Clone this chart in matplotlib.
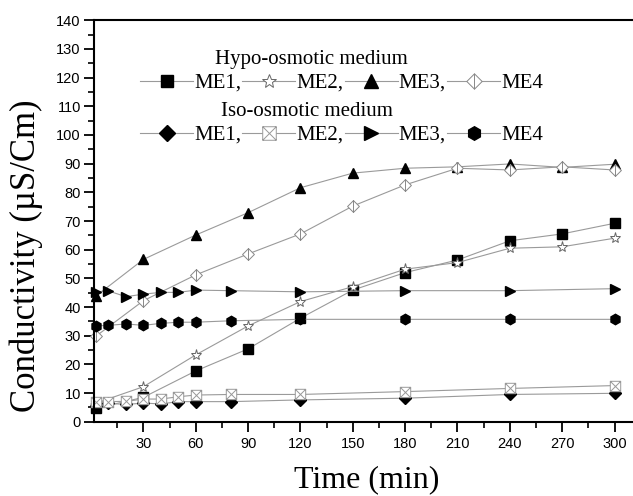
import matplotlib
matplotlib.use("Agg")
import matplotlib.pyplot as plt
import numpy as np
from matplotlib.path import Path
from matplotlib.lines import Line2D
from matplotlib.ticker import MultipleLocator

# ---- data ----
t_hypo = [3, 30, 60, 90, 120, 150, 180, 210, 240, 270, 300]
hypo_me1 = [4.7, 8.5, 17.7, 25.4, 36.1, 45.9, 52.0, 56.4, 63.1, 65.5, 69.2]
hypo_me2 = [6.5, 12.2, 23.3, 33.4, 41.9, 47.1, 53.2, 55.5, 60.5, 61.0, 64.0]
hypo_me3 = [43.9, 56.6, 65.1, 72.9, 81.6, 86.7, 88.4, 88.9, 89.9, 88.7, 89.8]
hypo_me4 = [29.9, 42.2, 51.2, 58.5, 65.5, 75.2, 82.6, 88.4, 87.8, 88.9, 87.8]

t_iso = [3, 10, 20, 30, 40, 50, 60, 80, 120, 180, 240, 300]
iso_me1 = [5.5, 6.4, 6.0, 6.5, 6.2, 7.0, 7.0, 7.0, 7.6, 8.2, 9.5, 9.9]
iso_me2 = [7.0, 7.0, 7.1, 7.9, 7.9, 8.7, 9.3, 9.5, 9.5, 10.5, 11.6, 12.6]
iso_me3 = [45.3, 45.6, 43.6, 44.5, 45.1, 45.1, 45.9, 45.7, 45.3, 45.7, 45.7, 46.4]
iso_me4 = [33.4, 33.6, 34.1, 33.6, 34.3, 34.7, 34.7, 35.2, 35.7, 35.7, 35.7, 35.7]

labels = ["ME1,", "ME2,", "ME3,", "ME4"]
xticks = [30, 60, 90, 120, 150, 180, 210, 240, 270, 300]

# ---- custom markers ----
diamond_bar = Path([(0, 1), (1, 0), (0, -1), (-1, 0), (0, 1), (0, 1), (0, -1)],
                   [Path.MOVETO, Path.LINETO, Path.LINETO, Path.LINETO, Path.CLOSEPOLY,
                    Path.MOVETO, Path.LINETO])
square_x = Path([(-1, -1), (1, -1), (1, 1), (-1, 1), (-1, -1),
                 (-1, -1), (1, 1), (-1, 1), (1, -1)],
                [Path.MOVETO, Path.LINETO, Path.LINETO, Path.LINETO, Path.CLOSEPOLY,
                 Path.MOVETO, Path.LINETO, Path.MOVETO, Path.LINETO])

W, H = 633, 496
fig = plt.figure(figsize=(W / 100, H / 100), dpi=100)
ax = fig.add_axes([94 / W, 1 - 421.7 / H, 539 / W, 401.4 / H])

lc = "#9a9a9a"
lw = 0.8
styles_hypo = [
    dict(marker="s", ms=6.5, mfc="black", mec="black"),
    dict(marker="*", ms=8, mfc="white", mec="#666666", mew=0.7),
    dict(marker="^", ms=7.5, mfc="black", mec="black"),
    dict(marker=diamond_bar, ms=8.5, mfc="white", mec="#888888", mew=0.7),
]
styles_iso = [
    dict(marker="D", ms=6, mfc="black", mec="black"),
    dict(marker=square_x, ms=7.5, mfc="white", mec="#999999", mew=0.7),
    dict(marker=">", ms=7.5, mfc="black", mec="black"),
    dict(marker="h", ms=7.5, mfc="black", mec="black"),
]

h_handles = []
for ys, st in zip([hypo_me1, hypo_me2, hypo_me3, hypo_me4], styles_hypo):
    ln, = ax.plot(t_hypo, ys, color=lc, lw=lw, clip_on=False, **st)
    h_handles.append(ln)
i_handles = []
for ys, st in zip([iso_me1, iso_me2, iso_me3, iso_me4], styles_iso):
    ln, = ax.plot(t_iso, ys, color=lc, lw=lw, clip_on=False, **st)
    i_handles.append(ln)

ax.set_xlim(1.7, 310.6)
ax.set_ylim(0, 140)
ax.set_xticks(xticks)
ax.xaxis.set_minor_locator(MultipleLocator(15))
ax.yaxis.set_major_locator(MultipleLocator(10))
ax.yaxis.set_minor_locator(MultipleLocator(5))
ax.tick_params(which="major", direction="out", length=7, width=1.3, labelsize=10.5, pad=2.5)
ax.tick_params(axis="x", which="major", pad=4)
ax.tick_params(which="minor", direction="out", length=4, width=1.2)
for lab in ax.get_xticklabels() + ax.get_yticklabels():
    lab.set_fontfamily("Liberation Sans")
for s in ["left", "bottom", "top"]:
    ax.spines[s].set_linewidth(1.5)
ax.spines["right"].set_visible(False)

ax.set_xlabel("Time (min)", fontfamily="Liberation Serif", fontsize=23)
ax.xaxis.set_label_coords((367 - 94) / 539, -0.108)
ax.set_ylabel("Conductivity (\u00b5S/Cm)", fontfamily="Liberation Serif", fontsize=25)
ax.yaxis.set_label_coords(-0.094, 0.413)

serif = dict(family="Liberation Serif", size=15)
fig.text(215 / W, 1 - 64 / H, "Hypo-osmotic medium", fontdict=serif, va="baseline", ha="left")
fig.text(221 / W, 1 - 116 / H, "Iso-osmotic medium", fontdict=serif, va="baseline", ha="left")

common = dict(ncol=4, frameon=False, borderpad=0, borderaxespad=0, handlelength=2.55,
              handletextpad=0.05, columnspacing=0.05, markerscale=1.3,
              prop={"family": "Liberation Serif", "size": 15}, loc="center left")
leg1 = fig.legend(h_handles, labels, bbox_to_anchor=(140 / W, 1 - 83 / H), **common)
leg2 = fig.legend(i_handles, labels, bbox_to_anchor=(140 / W, 1 - 135 / H), **common)

fig.savefig("out.png", dpi=100)
